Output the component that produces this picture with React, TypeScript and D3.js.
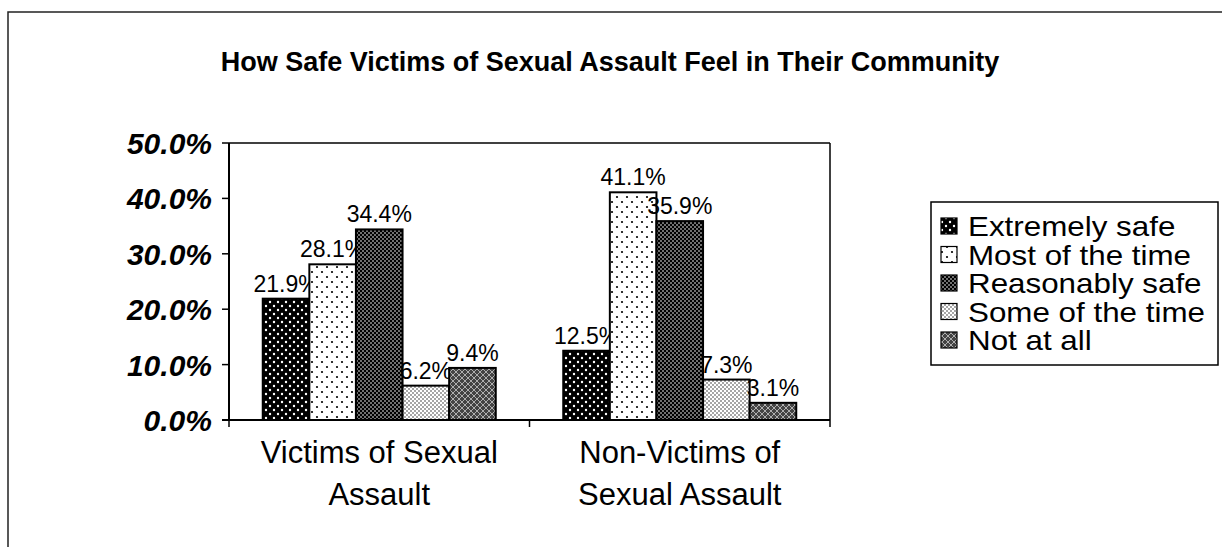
import React from "react";
import * as d3 from "d3";

const title = "How Safe Victims of Sexual Assault Feel in Their Community";
const categories = [["Victims of Sexual", "Assault"], ["Non-Victims of", "Sexual Assault"]];
const seriesNames = ["Extremely safe", "Most of the time", "Reasonably safe", "Some of the time", "Not at all"];
const victims = [21.9, 28.1, 34.4, 6.2, 9.4];
const nonVictims = [12.5, 41.1, 35.9, 7.3, 3.1];
const yTicks = [0, 10, 20, 30, 40, 50];

const W = 1232, H = 547;
const plot = { left: 229, right: 830, top: 143, bottom: 420 };
const FONT = "'Liberation Sans', Arial, Helvetica, sans-serif";

function Patterns() {
  return (
    <defs>
      <pattern id="p0" width="8" height="8" patternUnits="userSpaceOnUse">
        <rect width="8" height="8" fill="#000" />
        <circle cx="2" cy="2" r="1.2" fill="#fff" />
        <circle cx="6" cy="6" r="1.2" fill="#fff" />
      </pattern>
      <pattern id="p1" width="10" height="10" patternUnits="userSpaceOnUse">
        <rect width="10" height="10" fill="#fff" />
        <circle cx="2" cy="2" r="1.1" fill="#000" />
        <circle cx="7" cy="7" r="1.1" fill="#000" />
      </pattern>
      <pattern id="p2" width="4" height="4" patternUnits="userSpaceOnUse">
        <rect width="4" height="4" fill="#000" />
        <circle cx="1" cy="1" r="0.8" fill="#fff" />
        <circle cx="3" cy="3" r="0.8" fill="#fff" />
      </pattern>
      <pattern id="p3" width="4" height="4" patternUnits="userSpaceOnUse">
        <rect width="4" height="4" fill="#fff" />
        <circle cx="1" cy="1" r="0.75" fill="#222" />
        <circle cx="3" cy="3" r="0.75" fill="#222" />
      </pattern>
      <pattern id="p4" width="6" height="6" patternUnits="userSpaceOnUse">
        <rect width="6" height="6" fill="#444" />
        <path d="M0,0 L6,6 M6,0 L0,6" stroke="#bbb" strokeWidth="0.9" />
      </pattern>
    </defs>
  );
}

export default function App() {
  const data = [victims, nonVictims];
  const x0 = d3.scaleBand<number>().domain([0, 1]).range([plot.left, plot.right]);
  const groupW = 233;
  const x1 = d3.scaleBand<number>().domain(d3.range(seriesNames.length)).range([0, groupW]);
  const y = d3.scaleLinear().domain([0, 50]).range([plot.bottom, plot.top]);

  const legend = { x: 931, y: 202, w: 287, h: 163, rowH: 28.5 };

  return (
    <svg width={W} height={H} style={{ position: "absolute", left: 0, top: 0, background: "#fff" }} fontFamily={FONT}>
      <Patterns />
      <rect width={W} height={H} fill="#fff" />
      <path d="M8,600 L8,12 L1222,12" fill="none" stroke="#222" strokeWidth={1.5} />
      <text x={610} y={71} textAnchor="middle" fontSize={27} fontWeight="bold" fill="#000">{title}</text>

      <line x1={plot.left} y1={plot.top} x2={plot.right} y2={plot.top} stroke="#000" strokeWidth={1.5} />
      <line x1={plot.right} y1={plot.top} x2={plot.right} y2={plot.bottom} stroke="#000" strokeWidth={1.5} />

      {data.map((vals, gi) => {
        const gx = (x0(gi) as number) + (x0.bandwidth() - groupW) / 2;
        return (
          <g key={gi}>
            {vals.map((v, si) => {
              const bx = gx + (x1(si) as number);
              const bw = x1.bandwidth();
              return (
                <g key={si}>
                  <rect x={bx} y={y(v)} width={bw} height={y(0) - y(v)} fill={`url(#p${si})`} stroke="#000" strokeWidth={2} />
                  <text x={bx + bw / 2} y={y(v) - 7} textAnchor="middle" fontSize={23} fill="#000">{v.toFixed(1)}%</text>
                </g>
              );
            })}
          </g>
        );
      })}

      <line x1={plot.left} y1={plot.top} x2={plot.left} y2={plot.bottom} stroke="#000" strokeWidth={2} />
      <line x1={plot.left - 7} y1={plot.bottom} x2={plot.right} y2={plot.bottom} stroke="#000" strokeWidth={2} />
      {yTicks.map((t) => (
        <g key={t}>
          <line x1={plot.left - 7} x2={plot.left} y1={y(t)} y2={y(t)} stroke="#000" strokeWidth={1.5} />
          <text x={212} y={y(t) + 11} textAnchor="end" fontSize={30} fontWeight="bold" fontStyle="italic" fill="#000">{t.toFixed(1)}%</text>
        </g>
      ))}
      {[0, 1, 2].map((i) => {
        const xx = i < 2 ? (x0(i) as number) : plot.right;
        return <line key={i} x1={xx} x2={xx} y1={plot.bottom} y2={plot.bottom + 7} stroke="#000" strokeWidth={1.5} />;
      })}
      {categories.map((lines, gi) => (
        <text key={gi} textAnchor="middle" fontSize={31} fill="#000">
          {lines.map((l, li) => (
            <tspan key={li} x={(x0(gi) as number) + x0.bandwidth() / 2} y={463 + li * 42}>{l}</tspan>
          ))}
        </text>
      ))}

      <rect x={legend.x} y={legend.y} width={legend.w} height={legend.h} fill="#fff" stroke="#000" strokeWidth={1.5} />
      {seriesNames.map((n, i) => {
        const cy = legend.y + 24 + i * legend.rowH;
        return (
          <g key={n}>
            <rect x={941} y={cy - 8} width={16} height={16} fill={`url(#p${i})`} stroke="#000" strokeWidth={1.2} />
            <text transform={`translate(968,${cy + 10}) scale(1.12,1)`} fontSize={28} fill="#000">{n}</text>
          </g>
        );
      })}
    </svg>
  );
}
